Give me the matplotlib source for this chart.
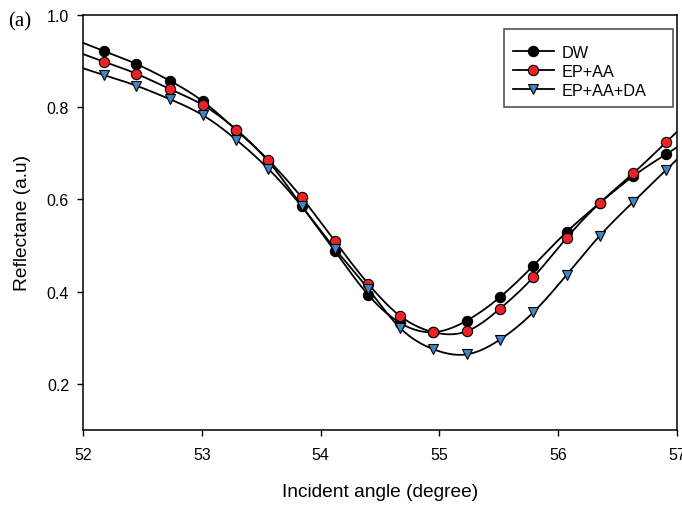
import numpy as np
import matplotlib
matplotlib.use('Agg')
import matplotlib.pyplot as plt
from matplotlib.patches import Rectangle

# incident angle (degree) and measured reflectance (a.u)
angle = [52.18, 52.45, 52.73, 53.01, 53.29, 53.56, 53.84, 54.12, 54.40,
         54.67, 54.95, 55.23, 55.51, 55.79, 56.07, 56.35, 56.63, 56.91]
dw = [0.921, 0.893, 0.857, 0.812, 0.750, 0.682, 0.586, 0.488, 0.393,
      0.332, 0.312, 0.337, 0.388, 0.456, 0.529, 0.592, 0.650, 0.698]
ep_aa = [0.898, 0.872, 0.839, 0.804, 0.751, 0.685, 0.604, 0.509, 0.417,
         0.347, 0.312, 0.314, 0.363, 0.431, 0.516, 0.592, 0.656, 0.724]
ep_aa_da = [0.869, 0.846, 0.817, 0.782, 0.729, 0.666, 0.585, 0.493, 0.406,
            0.321, 0.275, 0.264, 0.296, 0.355, 0.436, 0.521, 0.594, 0.664]

labels = ['DW', 'EP+AA', 'EP+AA+DA']
xticks = [52, 53, 54, 55, 56, 57]
yticks = [0.2, 0.4, 0.6, 0.8, 1.0]


def spline(x, y, xs):
    # natural cubic spline, end segments extended past the data
    x = np.asarray(x, float)
    y = np.asarray(y, float)
    n = len(x)
    h = np.diff(x)
    A = np.zeros((n, n))
    b = np.zeros(n)
    A[0, 0] = A[-1, -1] = 1.0
    for i in range(1, n - 1):
        A[i, i - 1] = h[i - 1]
        A[i, i] = 2 * (h[i - 1] + h[i])
        A[i, i + 1] = h[i]
        b[i] = 3 * ((y[i + 1] - y[i]) / h[i] - (y[i] - y[i - 1]) / h[i - 1])
    c = np.linalg.solve(A, b)
    bb = (y[1:] - y[:-1]) / h - h * (2 * c[:-1] + c[1:]) / 3
    d = (c[1:] - c[:-1]) / (3 * h)
    idx = np.clip(np.searchsorted(x, xs) - 1, 0, n - 2)
    t = xs - x[idx]
    return y[idx] + bb[idx] * t + c[idx] * t ** 2 + d[idx] * t ** 3


plt.rcParams['font.family'] = ['Liberation Sans', 'DejaVu Sans']

fig = plt.figure(figsize=(6.82, 5.06), dpi=100)
ax = fig.add_axes([0.1217, 0.1482, 0.8710, 0.8208])

xs = np.linspace(52, 57, 400)
styles = [
    (dw, 'o', 'black'),
    (ep_aa, 'o', '#ec2227'),
    (ep_aa_da, 'v', '#3f86c4'),
]
handles = []
for (vals, mk, col), lab in zip(styles, labels):
    ax.plot(xs, spline(angle, vals, xs), color='black', lw=1.3, zorder=2)
    ax.plot(angle, vals, linestyle='none', marker=mk, markersize=7.4,
            markerfacecolor=col, markeredgecolor='black',
            markeredgewidth=0.8, zorder=3)
    h, = ax.plot([], [], color='black', lw=1.3, marker=mk, markersize=7.4,
                 markerfacecolor=col, markeredgecolor='black',
                 markeredgewidth=0.8)
    handles.append(h)

ax.set_xlim(52, 57)
ax.set_ylim(0.1, 1.0)
ax.set_xticks(xticks)
ax.set_yticks(yticks)
ax.set_yticklabels(['%.1f' % v for v in yticks])
ax.tick_params(direction='out', length=4, width=1, labelsize=11.5, pad=6,
               top=False, right=False)
ax.tick_params(axis='x', pad=8)
for s in ax.spines.values():
    s.set_linewidth(1.1)

ax.set_xlabel('Incident angle (degree)', fontsize=13.8, labelpad=15)
ax.set_ylabel('Reflectane (a.u)', fontsize=13.8, labelpad=11)

# legend with its own frame
box = Rectangle((503.5 / 682, 1 - 108 / 506), 169 / 682, 78 / 506,
                transform=fig.transFigure, facecolor='white',
                edgecolor='#555555', lw=1.2, zorder=5)
fig.patches.append(box)
leg = fig.legend(handles, labels, loc='upper left',
                 bbox_to_anchor=(513 / 682, 1 - 46 / 506), frameon=False,
                 fontsize=11.7, handlelength=2.5, handletextpad=0.5,
                 labelspacing=0.25, borderpad=0, borderaxespad=0)
leg.set_zorder(6)

fig.text(8 / 682, 1 - 22 / 506, '(a)', fontsize=15,
         family='Liberation Serif', va='center', ha='left')

fig.savefig('out.png', dpi=100)
